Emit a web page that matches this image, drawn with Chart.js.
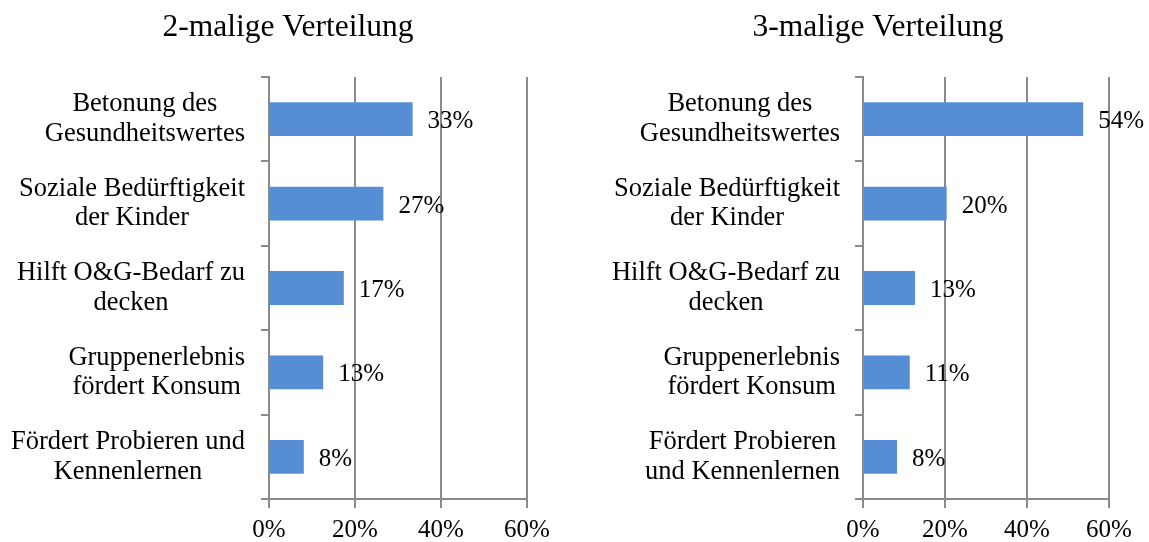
<!DOCTYPE html>
<html lang="de">
<head>
<meta charset="utf-8">
<title>Verteilung</title>
<script src="https://cdn.jsdelivr.net/npm/chart.js@4/dist/chart.umd.min.js"></script>
<style>
  html, body { margin: 0; padding: 0; background: #fff; }
  .wrap { display: flex; width: 1149px; height: 542px; }
  canvas { display: block; }
</style>
</head>
<body>
<div class="wrap">
  <canvas id="chart2" width="575" height="542"></canvas>
  <canvas id="chart3" width="574" height="542"></canvas>
</div>
<script>
// categories (line breaks as in the original)
const categories2 = [
  ["Betonung des", "Gesundheitswertes"],
  ["Soziale Bedürftigkeit", "der Kinder"],
  ["Hilft O&G-Bedarf zu", "decken"],
  ["Gruppenerlebnis", "fördert Konsum"],
  ["Fördert Probieren und", "Kennenlernen"],
];
const categories3 = [
  ["Betonung des", "Gesundheitswertes"],
  ["Soziale Bedürftigkeit", "der Kinder"],
  ["Hilft O&G-Bedarf zu", "decken"],
  ["Gruppenerlebnis", "fördert Konsum"],
  ["Fördert Probieren", "und Kennenlernen"],
];

// shares in percent
const values2 = [33.4, 26.6, 17.4, 12.6, 8.1];
const values3 = [53.7, 20.4, 12.7, 11.4, 8.3];

const xMin = 0;
const xMax = 60;
const xStep = 20;

const serif = "'Liberation Serif', 'Times New Roman', serif";
const gridColor = "#8a8a8a";
const barColor = "#558ed5";

// draws the title, centered label blocks and value labels
const textPlugin = {
  id: "textPlugin",
  afterDraw(chart, args, opts) {
    const ctx = chart.ctx;
    const yScale = chart.scales.y;
    const meta = chart.getDatasetMeta(0);

    ctx.save();
    ctx.fillStyle = "#000";

    // title
    ctx.font = "31.5px " + serif;
    ctx.textAlign = "center";
    ctx.textBaseline = "alphabetic";
    ctx.fillText(opts.title, opts.titleX, 36);

    // category labels: each block right aligned, lines centered inside
    ctx.font = "26.5px " + serif;
    ctx.textBaseline = "middle";
    chart.data.labels.forEach((lines, i) => {
      const yc = yScale.getPixelForValue(i);
      const maxW = Math.max(...lines.map((l) => ctx.measureText(l).width));
      const xc = opts.labelRight - maxW / 2;
      lines.forEach((line, j) => {
        const dy = (j - (lines.length - 1) / 2) * 29.5;
        ctx.fillText(line, xc, yc + dy);
      });
    });

    // value labels
    ctx.font = "25px " + serif;
    ctx.textAlign = "left";
    meta.data.forEach((bar, i) => {
      const v = chart.data.datasets[0].data[i];
      ctx.fillText(Math.round(v) + "%", bar.x + 15, bar.y + 2.5);
    });

    ctx.restore();
  },
};

function makeChart(id, labels, values, opts) {
  return new Chart(document.getElementById(id), {
    type: "bar",
    data: {
      labels: labels,
      datasets: [
        {
          data: values,
          backgroundColor: barColor,
          borderWidth: 0,
          barPercentage: 0.4,
          categoryPercentage: 1,
        },
      ],
    },
    options: {
      indexAxis: "y",
      responsive: false,
      animation: false,
      devicePixelRatio: 1,
      layout: {
        padding: { top: 77, right: opts.padRight, bottom: 0, left: 0 },
      },
      scales: {
        x: {
          min: xMin,
          max: xMax,
          ticks: {
            stepSize: xStep,
            color: "#000",
            font: { family: serif, size: 25 },
            padding: 7,
            callback: (v) => v + "%",
          },
          grid: {
            color: gridColor,
            lineWidth: 2,
            tickLength: 9,
          },
          border: { color: gridColor, width: 2 },
          afterFit: (s) => {
            s.height = 43;
          },
        },
        y: {
          ticks: { display: false },
          grid: {
            offset: true,
            drawOnChartArea: false,
            color: gridColor,
            lineWidth: 2,
            tickLength: 8,
          },
          border: { color: gridColor, width: 2 },
          afterFit: (s) => {
            s.width = opts.axisX;
          },
        },
      },
      plugins: {
        legend: { display: false },
        tooltip: { enabled: false },
        textPlugin: {
          title: opts.title,
          titleX: opts.titleX,
          labelRight: opts.labelRight,
        },
      },
    },
    plugins: [textPlugin],
  });
}

makeChart("chart2", categories2, values2, {
  title: "2-malige Verteilung",
  titleX: 288,
  axisX: 269,
  padRight: 48,
  labelRight: 245,
});

makeChart("chart3", categories3, values3, {
  title: "3-malige Verteilung",
  titleX: 303,
  axisX: 288,
  padRight: 40,
  labelRight: 265,
});
</script>
</body>
</html>
